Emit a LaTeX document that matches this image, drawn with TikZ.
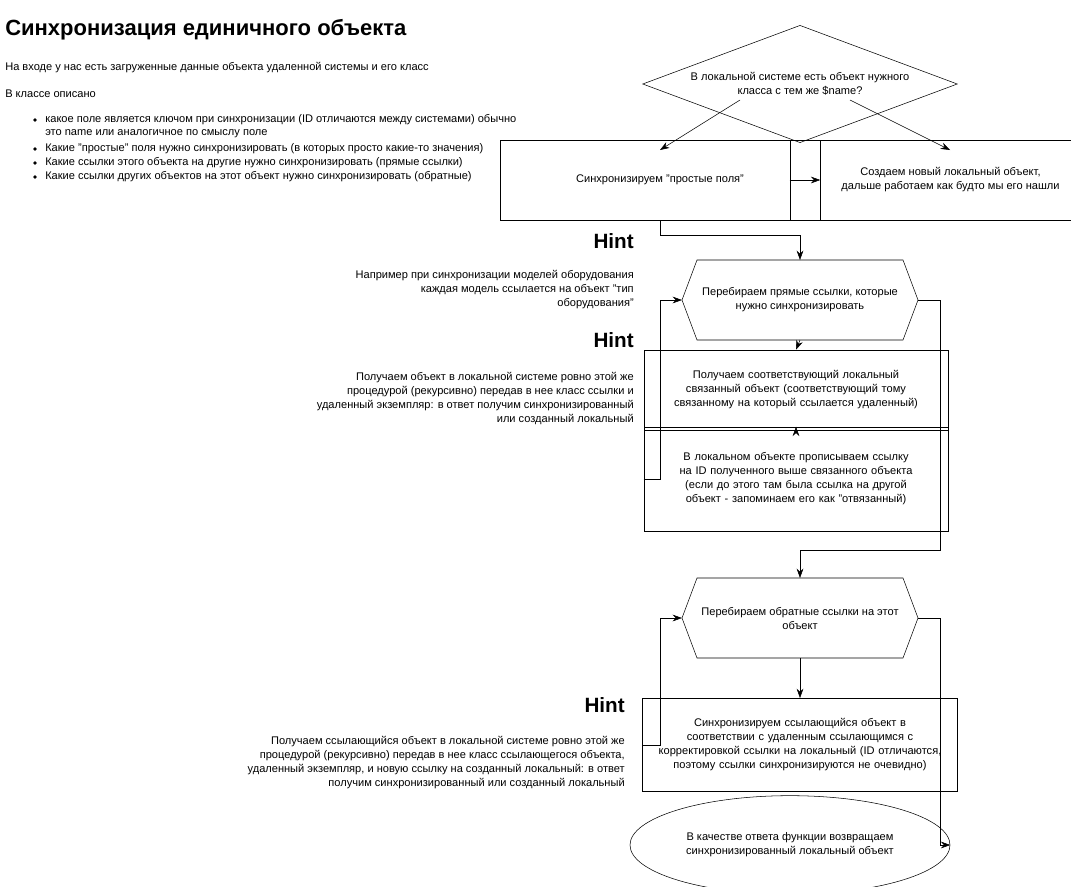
\documentclass[tikz,border=0pt]{standalone}
\usepackage{fontspec}
\setmainfont{Liberation Sans}
\usetikzlibrary{shapes.geometric,arrows.meta}
\tikzset{
  flow/.style={-{Stealth[length=7pt,width=5pt]}},
  proc/.style={draw,align=center,font=\fontsize{8.3}{10.5}\selectfont,inner sep=1pt},
  note/.style={anchor=north east,align=right,font=\fontsize{8.3}{10.5}\selectfont,inner sep=0pt},
  hint/.style={anchor=east,font=\bfseries\fontsize{15.5}{18}\selectfont,inner sep=0pt},
  plain/.style={anchor=west,font=\fontsize{8.3}{10.5}\selectfont,inner sep=0pt}
}
\begin{document}
\begin{tikzpicture}[x=0.75pt,y=0.75pt,yscale=-1,xscale=1]
	\useasboundingbox (0,0) rectangle (1071,886);

	% Title and left text
	\node [anchor=west,inner sep=0pt,font=\bfseries\fontsize{16.5}{20}\selectfont] (title) at (5,30) {Синхронизация единичного объекта};
	\node [plain] (input) at (5,68) {На входе у нас есть загруженные данные объекта удаленной системы и его класс};
	\node [plain] (inclass) at (5,94) {В классе описано};
	\foreach \y/\t in {120/{какое поле является ключом при синхронизации (ID отличаются между системами) обычно},
	                   134/{это name или аналогичное по смыслу поле},
	                   149/{Какие "простые" поля нужно синхронизировать (в которых просто какие-то значения)},
	                   163/{Какие ссылки этого объекта на другие нужно синхронизировать (прямые ссылки)},
	                   177/{Какие ссылки других объектов на этот объект нужно синхронизировать (обратные)}}
	  \node [plain] at (45,\y) {\t};
	\foreach \y in {120,149,163,177}
	  \fill (35,\y) circle [radius=1.8];

	% Decision
	\node [draw,diamond,aspect=2.7,minimum width=236,minimum height=88,inner sep=0pt,align=center,font=\fontsize{8.3}{10.5}\selectfont] (found) at (800,84) {В локальной системе есть объект нужного\\класса с тем же \$name?};

	% Boxes
	\node [proc,minimum width=240,minimum height=60] (simple) at (660,180) {Синхронизируем "простые поля"};
	\node [proc,minimum width=241,minimum height=60] (create) at (950.5,180) {Создаем новый локальный объект,\\дальше работаем как будто мы его нашли};

	\node [draw,regular polygon,regular polygon sides=6,shape border rotate=0,inner sep=0pt,minimum size=0pt] at (0,0) {};
	% Hexagons drawn as paths with named coordinates
	\coordinate (h1w) at (682,300); \coordinate (h1e) at (918,300);
	\coordinate (h1n) at (800,260); \coordinate (h1s) at (800,340);
	\draw (h1w) -- (697,260) -- (903,260) -- (h1e) -- (903,340) -- (697,340) -- cycle;
	\node [align=center,font=\fontsize{8.3}{10.5}\selectfont] (direct) at (800,300) {Перебираем прямые ссылки, которые\\нужно синхронизировать};

	\node [proc,text width=226,minimum height=60] (getlocal) at (796,390) {Получаем соответствующий локальный связанный объект (соответствующий тому \ связанному на который ссылается удаленный)};
	\node [proc,text width=226,minimum height=78] (setlink) at (796,479) {В локальном объекте прописываем ссылку на ID полученного выше связанного объекта\\(если до этого там была ссылка на другой объект - запоминаем его как "отвязанный)};

	\coordinate (h2w) at (682,618); \coordinate (h2e) at (918,618);
	\coordinate (h2n) at (800,578); \coordinate (h2s) at (800,658);
	\draw (h2w) -- (697,578) -- (903,578) -- (h2e) -- (903,658) -- (697,658) -- cycle;
	\node [align=center,font=\fontsize{8.3}{10.5}\selectfont] (reverse) at (800,618) {Перебираем обратные ссылки на этот\\объект};

	\node [proc,text width=234,minimum height=70] (syncref) at (800,745) {Синхронизируем ссылающийся объект в соответствии с удаленным ссылающимся с корректировкой ссылки на локальный (ID отличаются, поэтому ссылки синхронизируются не очевидно)};

	\node [draw,ellipse,minimum width=240,minimum height=74,inner sep=0pt,align=center,font=\fontsize{8.3}{10.5}\selectfont] (result) at (790,845) {В качестве ответа функции возвращаем\\синхронизированный локальный объект};

	% Hints
	\node [hint] (hint1) at (634,241) {Hint};
	\node [note] (note1) at (634,270) {Например при синхронизации моделей оборудования\\каждая модель ссылается на объект "тип\\оборудования"};
	\node [hint] (hint2) at (634,340) {Hint};
	\node [note] (note2) at (634,372) {Получаем объект в локальной системе ровно этой же\\процедурой (рекурсивно) передав в нее класс ссылки и\\удаленный экземпляр: в ответ получим синхронизированный\\или созданный локальный};
	\node [hint] (hint3) at (625,705) {Hint};
	\node [note] (note3) at (625,736) {Получаем ссылающийся объект в локальной системе ровно этой же\\процедурой (рекурсивно) передав в нее класс ссылающегося объекта,\\удаленный экземпляр, и новую ссылку на созданный локальный: в ответ\\получим синхронизированный или созданный локальный};

	% Connections
	\draw [flow] (740,100) -- (660,150);
	\draw [flow] (850,100) -- (950,150);
	\draw [flow] (create.west) -- (simple.east);
	\draw [flow] (simple.south) -- (660,235) -- (800,235) -- (h1n);
	\draw [flow] (h1s) -- (getlocal.north);
	\draw [flow] (getlocal.south) -- (setlink.north);
	\draw [flow] (setlink.west) -- (660,479) -- (660,300) -- (h1w);
	\draw [flow] (h1e) -- (940,300) -- (940,550) -- (800,550) -- (h2n);
	\draw [flow] (h2s) -- (syncref.north);
	\draw [flow] (syncref.west) -- (660,745) -- (660,618) -- (h2w);
	\draw [flow] (h2e) -- (940,618) -- (940,845) -- (result.east);
\end{tikzpicture}
\end{document}
